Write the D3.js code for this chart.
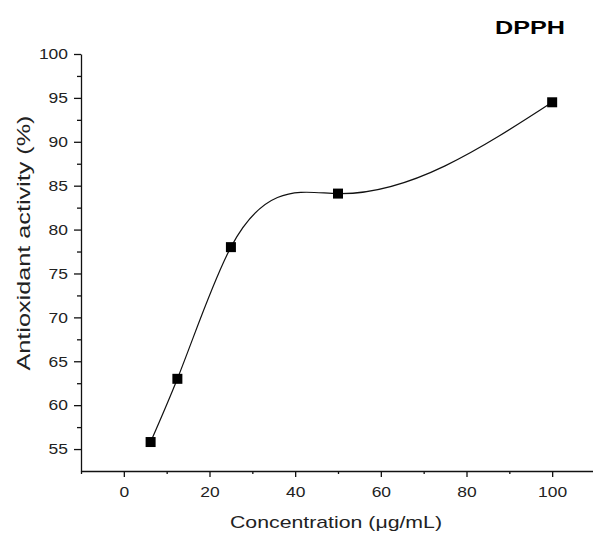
<!DOCTYPE html>
<html>
<head>
<meta charset="utf-8">
<script src="https://cdn.jsdelivr.net/npm/d3@7"></script>
<style>
  body { margin: 0; background: #fff; }
  text { font-family: "Liberation Sans", Arial, sans-serif; fill: #222; }
</style>
</head>
<body>
<svg id="chart" width="593" height="533"></svg>
<script>
// data
var concentration = [6.25, 12.5, 25, 50, 100];
var activity = [55.8, 63.0, 78.0, 84.1, 94.5];
var xTicks = [0, 20, 40, 60, 80, 100];
var yTicks = [55, 60, 65, 70, 75, 80, 85, 90, 95, 100];

var data = concentration.map((c, i) => ({ c: c, v: activity[i] }));

var svg = d3.select("#chart");

var x = d3.scaleLinear().domain([-10, 110]).range([81, 595]);
var y = d3.scaleLinear().domain([52.5, 100]).range([471, 54]);

// natural cubic spline y(x), written as bezier pieces (like Origin's "spline" connect)
function curveSplineX(context) {
    var pts = [];
    return {
        areaStart() {}, areaEnd() {},
        lineStart() { pts = []; },
        point(px, py) { pts.push([+px, +py]); },
        lineEnd() {
            var n = pts.length - 1;
            if (n < 1) return;
            var h = [], M = new Array(n + 1).fill(0);
            for (var i = 0; i < n; i++) h.push(pts[i + 1][0] - pts[i][0]);
            // tridiagonal solve for second derivatives, M0 = Mn = 0
            var a = [], b = [], c = [], r = [];
            for (var i = 1; i < n; i++) {
                a.push(h[i - 1]);
                b.push(2 * (h[i - 1] + h[i]));
                c.push(h[i]);
                r.push(6 * ((pts[i + 1][1] - pts[i][1]) / h[i] - (pts[i][1] - pts[i - 1][1]) / h[i - 1]));
            }
            var m = b.length;
            for (var i = 1; i < m; i++) {
                var w = a[i] / b[i - 1];
                b[i] -= w * c[i - 1];
                r[i] -= w * r[i - 1];
            }
            for (var i = m - 1; i >= 0; i--) {
                M[i + 1] = (r[i] - (i < m - 1 ? c[i] * M[i + 2] : 0)) / b[i];
            }
            context.moveTo(pts[0][0], pts[0][1]);
            for (var i = 0; i < n; i++) {
                var s = (pts[i + 1][1] - pts[i][1]) / h[i];
                var d0 = s - h[i] * (2 * M[i] + M[i + 1]) / 6;
                var d1 = s + h[i] * (M[i] + 2 * M[i + 1]) / 6;
                context.bezierCurveTo(
                    pts[i][0] + h[i] / 3, pts[i][1] + d0 * h[i] / 3,
                    pts[i + 1][0] - h[i] / 3, pts[i + 1][1] - d1 * h[i] / 3,
                    pts[i + 1][0], pts[i + 1][1]);
            }
        }
    };
}

// y axis: minor then major ticks
svg.append("g")
    .attr("transform", "translate(81,0)")
    .call(d3.axisLeft(y).tickValues(d3.range(55, 100, 5).map(d => d + 2.5)).tickSize(4).tickFormat(""))
    .call(g => g.select(".domain").remove());

svg.append("g")
    .attr("class", "yaxis")
    .attr("transform", "translate(81,0)")
    .call(d3.axisLeft(y).tickValues(yTicks).tickSize(7).tickSizeOuter(0).tickPadding(6));

// x axis
svg.append("g")
    .attr("transform", "translate(0,471)")
    .call(d3.axisBottom(x).tickValues(d3.range(-10, 111, 20)).tickSize(3).tickFormat(""))
    .call(g => g.select(".domain").remove());

svg.append("g")
    .attr("class", "xaxis")
    .attr("transform", "translate(0,471)")
    .call(d3.axisBottom(x).tickValues(xTicks).tickSize(6).tickSizeOuter(0).tickPadding(9));

svg.selectAll(".domain, .tick line").attr("stroke", "#111").attr("stroke-width", 1.3);
svg.selectAll(".tick text")
    .attr("font-size", 15)
    .attr("fill", "#222")
    .attr("font-family", "Liberation Sans, Arial, sans-serif")
    .attr("textLength", function () { return this.textContent.length * 9.7; })
    .attr("lengthAdjust", "spacingAndGlyphs");

var line = d3.line()
    .x(d => x(d.c))
    .y(d => y(d.v))
    .curve(curveSplineX);

svg.append("path")
    .datum(data)
    .attr("d", line)
    .attr("fill", "none")
    .attr("stroke", "#111")
    .attr("stroke-width", 1.2);

svg.append("g")
    .selectAll("rect")
    .data(data)
    .join("rect")
    .attr("x", d => x(d.c) - 5)
    .attr("y", d => y(d.v) - 5)
    .attr("width", 10)
    .attr("height", 10)
    .attr("fill", "#000");

// labels
svg.append("text")
    .attr("x", 495)
    .attr("y", 34)
    .attr("font-size", 18)
    .attr("font-weight", "bold")
    .attr("textLength", 70)
    .attr("lengthAdjust", "spacingAndGlyphs")
    .style("fill", "#000")
    .text("DPPH");

svg.append("text")
    .attr("x", 230)
    .attr("y", 528)
    .attr("font-size", 17)
    .attr("textLength", 212)
    .attr("lengthAdjust", "spacingAndGlyphs")
    .text("Concentration (μg/mL)");

svg.append("text")
    .attr("transform", "translate(30,243) rotate(-90)")
    .attr("text-anchor", "middle")
    .attr("font-size", 18)
    .attr("textLength", 255)
    .attr("lengthAdjust", "spacingAndGlyphs")
    .text("Antioxidant activity (%)");
</script>
</body>
</html>
